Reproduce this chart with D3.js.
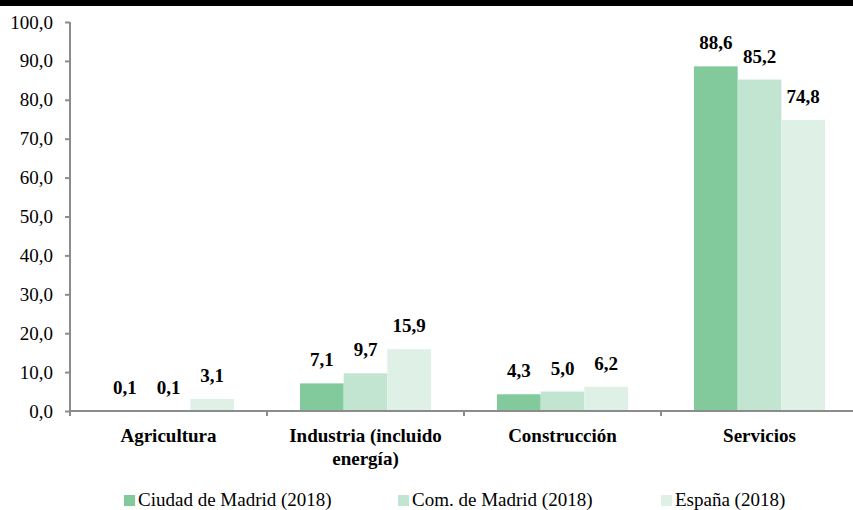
<!DOCTYPE html>
<html>
<head>
<meta charset="utf-8">
<script src="https://cdn.jsdelivr.net/npm/d3@7"></script>
<style>
  body { margin: 0; background: #fff; }
  svg text { font-family: "Liberation Serif", "Times New Roman", serif !important; }
</style>
</head>
<body>
<div id="chart"></div>
<script>
// Data
const categories = ["Agricultura", "Industria (incluido energía)", "Construcción", "Servicios"];
const series = ["Ciudad de Madrid (2018)", "Com. de Madrid (2018)", "España (2018)"];
const ciudadMadrid = [0.1, 7.1, 4.3, 88.6];
const comMadrid = [0.1, 9.7, 5.0, 85.2];
const espana = [3.1, 15.9, 6.2, 74.8];
const yTicks = [0, 10, 20, 30, 40, 50, 60, 70, 80, 90, 100];

const colors = ["#82ca9c", "#c2e5d1", "#dff0e6"];
const values = [ciudadMadrid, comMadrid, espana];
const serifFont = "'Liberation Serif', 'Times New Roman', serif";

const W = 853, H = 510;
const margin = {top: 22, left: 70, bottom: 99};
const plotBottom = H - margin.bottom;

const svg = d3.select("#chart").append("svg")
  .attr("width", W)
  .attr("height", H)
  .style("display", "block");

// black band at the top
svg.append("rect").attr("x", 0).attr("y", 0).attr("width", W).attr("height", 6).attr("fill", "#000");

const x0 = d3.scaleBand()
  .domain(categories)
  .range([margin.left, margin.left + 4 * 197]);

const x1 = d3.scaleBand()
  .domain(series)
  .range([0, x0.bandwidth()])
  .paddingOuter(0.755);

const y = d3.scaleLinear()
  .domain([0, 100])
  .range([plotBottom, margin.top]);

const fmt = v => d3.format(".1f")(v).replace(".", ",");

// bars
const groups = svg.selectAll(".grp")
  .data(categories)
  .join("g")
  .attr("class", "grp")
  .attr("transform", d => `translate(${x0(d)},0)`);

const barData = (c, i) => series.map((s, j) => ({s, j, v: values[j][i]}));

groups.selectAll("rect")
  .data(barData)
  .join("rect")
  .attr("x", d => x1(d.s))
  .attr("y", d => y(d.v))
  .attr("width", x1.bandwidth())
  .attr("height", d => plotBottom - y(d.v))
  .attr("fill", d => colors[d.j]);

groups.selectAll("text")
  .data(barData)
  .join("text")
  .attr("x", d => x1(d.s) + x1.bandwidth() / 2)
  .attr("y", d => y(d.v) - 17)
  .attr("text-anchor", "middle")
  .style("font-family", serifFont)
  .style("font-size", "19px")
  .style("font-weight", "bold")
  .attr("fill", "#000")
  .text(d => fmt(d.v));

// y axis
const yAxis = svg.append("g")
  .attr("transform", `translate(${margin.left},0)`)
  .call(d3.axisLeft(y).tickValues(yTicks).tickSize(5).tickPadding(12).tickFormat(fmt));
yAxis.attr("font-family", null).attr("font-size", null);
yAxis.select(".domain").attr("d", `M0,${margin.top}V${plotBottom + 5}`);
yAxis.selectAll("line, .domain").attr("stroke", "#8c8c8c").attr("stroke-width", 2);
yAxis.selectAll("text")
  .style("font-family", serifFont)
  .style("font-size", "19px")
  .attr("fill", "#000");

// x axis
const xAxis = svg.append("g")
  .attr("transform", `translate(0,${plotBottom})`)
  .call(d3.axisBottom(x0).tickSize(0).tickFormat(""));
xAxis.select(".domain").attr("d", `M${margin.left},0H${W}`).attr("stroke", "#8c8c8c").attr("stroke-width", 2);
xAxis.selectAll(".tick").remove();
xAxis.selectAll(".sep")
  .data(categories.slice(1))
  .join("line")
  .attr("class", "sep")
  .attr("x1", d => x0(d)).attr("x2", d => x0(d))
  .attr("y1", 0).attr("y2", 5)
  .attr("stroke", "#8c8c8c").attr("stroke-width", 2);

// category labels (wrapped)
const catLabels = svg.selectAll(".cat")
  .data(categories)
  .join("text")
  .attr("class", "cat")
  .attr("text-anchor", "middle")
  .style("font-family", serifFont)
  .style("font-size", "19px")
  .style("font-weight", "bold")
  .attr("fill", "#000");

catLabels.each(function(d) {
  const t = d3.select(this);
  const cx = x0(d) + x0.bandwidth() / 2;
  const words = d.split(" ");
  const lines = words.length > 2 ? [words.slice(0, 2).join(" "), words.slice(2).join(" ")] : [d];
  lines.forEach((ln, k) => {
    t.append("tspan").attr("x", cx).attr("y", plotBottom + 31 + k * 23).text(ln);
  });
});

// legend
const legendX = [124, 398, 661];
const legend = svg.selectAll(".legend")
  .data(series)
  .join("g")
  .attr("class", "legend")
  .attr("transform", (d, i) => `translate(${legendX[i]},${H - 15})`);

legend.append("rect")
  .attr("width", 11).attr("height", 11)
  .attr("fill", (d, i) => colors[i]);

legend.append("text")
  .attr("x", 14)
  .attr("y", 11)
  .style("font-family", serifFont)
  .style("font-size", "19px")
  .attr("fill", "#000")
  .text(d => d);
</script>
</body>
</html>
